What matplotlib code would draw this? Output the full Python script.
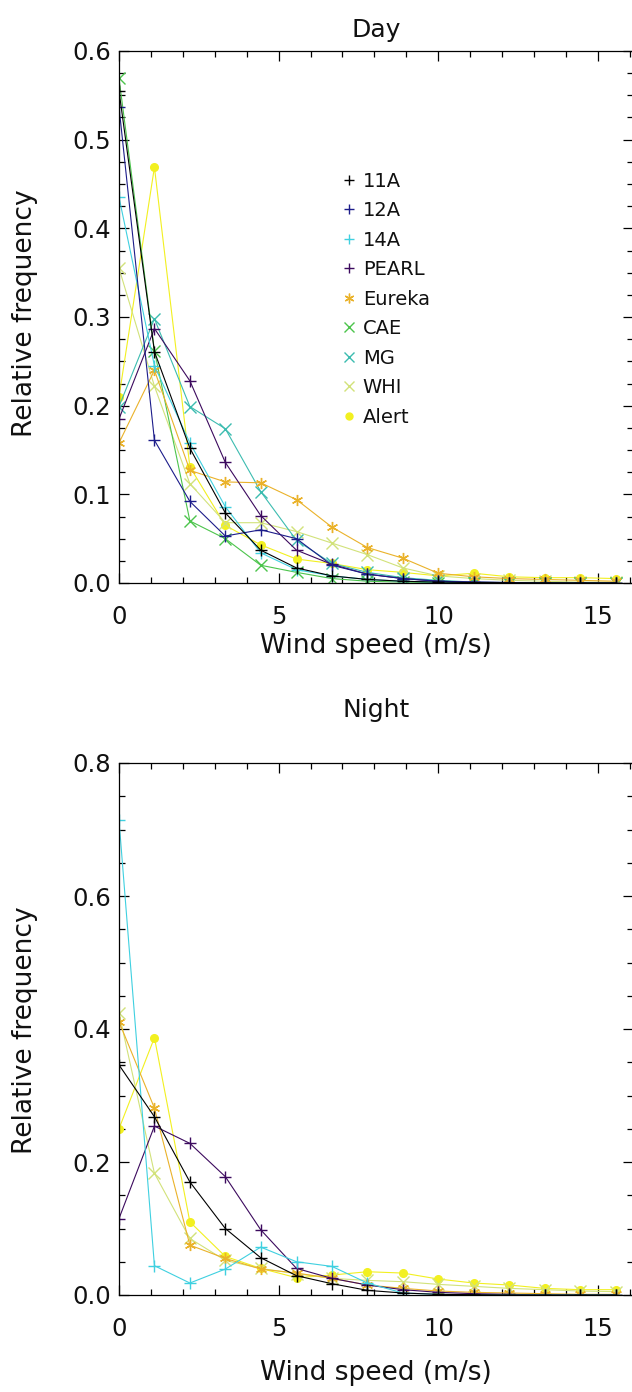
import matplotlib
matplotlib.use('Agg')
import matplotlib.pyplot as plt
from matplotlib.lines import Line2D
from matplotlib.ticker import MultipleLocator, FormatStrFormatter

plt.rcParams['font.family'] = ['DejaVu Sans']

# wind speed bins (4 km/h steps, in m/s)
speed = [0.0, 1.11, 2.22, 3.33, 4.44, 5.56, 6.67, 7.78, 8.89, 10.0,
         11.11, 12.22, 13.33, 14.44, 15.56]

# Day
day_11A = [0.555, 0.261, 0.152, 0.079, 0.037, 0.017, 0.008, 0.004, 0.002, 0.001, 0.0005, 0.0003, 0.0002, 0.0001, 0.0001]
day_12A = [0.537, 0.161, 0.092, 0.053, 0.060, 0.050, 0.020, 0.010, 0.005, 0.002, 0.001, 0.0005, 0.0, 0.0, 0.0]
day_14A = [0.435, 0.245, 0.158, 0.086, 0.034, 0.015, 0.008, 0.004, 0.002, 0.001, 0.0005, 0.0, 0.0, 0.0, 0.0]
day_PEARL = [0.185, 0.287, 0.228, 0.136, 0.076, 0.037, 0.021, 0.010, 0.005, 0.002, 0.001, 0.0005, 0.0, 0.0, 0.0]
day_Eureka = [0.158, 0.240, 0.127, 0.114, 0.113, 0.094, 0.063, 0.040, 0.028, 0.011, 0.007, 0.005, 0.004, 0.003, 0.002]
day_CAE = [0.569, 0.262, 0.070, 0.050, 0.020, 0.012, 0.005, 0.002, 0.001, 0.0005, 0.0, 0.0, 0.0, 0.0, 0.0]
day_MG = [0.199, 0.298, 0.199, 0.174, 0.103, 0.048, 0.022, 0.012, 0.006, 0.003, 0.001, 0.0005, 0.0, 0.0, 0.0]
day_WHI = [0.355, 0.222, 0.112, 0.068, 0.068, 0.058, 0.045, 0.032, 0.017, 0.008, 0.005, 0.003, 0.002, 0.001, 0.001]
day_Alert = [0.210, 0.469, 0.131, 0.065, 0.043, 0.027, 0.022, 0.015, 0.012, 0.008, 0.011, 0.007, 0.006, 0.006, 0.005]

# Night
night_11A = [0.346, 0.268, 0.170, 0.100, 0.056, 0.029, 0.017, 0.007, 0.003, 0.001, 0.0005, 0.0, 0.0, 0.0, 0.0]
night_14A = [0.714, 0.044, 0.018, 0.039, 0.072, 0.050, 0.043, 0.018, 0.003, 0.001, 0.0, 0.0, 0.0, 0.0, 0.0]
night_PEARL = [0.115, 0.254, 0.228, 0.178, 0.098, 0.040, 0.025, 0.015, 0.008, 0.004, 0.002, 0.001, 0.0, 0.0, 0.0]
night_Eureka = [0.411, 0.281, 0.075, 0.055, 0.039, 0.033, 0.025, 0.015, 0.010, 0.006, 0.004, 0.003, 0.002, 0.001, 0.001]
night_WHI = [0.424, 0.183, 0.085, 0.052, 0.040, 0.032, 0.025, 0.022, 0.020, 0.016, 0.013, 0.010, 0.008, 0.006, 0.005]
night_Alert = [0.250, 0.387, 0.110, 0.058, 0.040, 0.026, 0.030, 0.035, 0.033, 0.024, 0.018, 0.015, 0.010, 0.008, 0.008]

names = ['11A', '12A', '14A', 'PEARL', 'Eureka', 'CAE', 'MG', 'WHI', 'Alert']
colors = {'11A': '#000000', '12A': '#1c1c8a', '14A': '#3fd0e0', 'PEARL': '#3c0a5e',
          'Eureka': '#eab22a', 'CAE': '#4cc44c', 'MG': '#3cbcb0', 'WHI': '#d2e27a',
          'Alert': '#f2f020'}
asterisk = (6, 2, 0)
markers = {'11A': '+', '12A': '+', '14A': '+', 'PEARL': '+', 'Eureka': asterisk,
           'CAE': 'x', 'MG': 'x', 'WHI': 'x', 'Alert': 'o'}

day = {'11A': day_11A, '12A': day_12A, '14A': day_14A, 'PEARL': day_PEARL,
       'Eureka': day_Eureka, 'CAE': day_CAE, 'MG': day_MG, 'WHI': day_WHI,
       'Alert': day_Alert}
night = {'11A': night_11A, '14A': night_14A, 'PEARL': night_PEARL,
         'Eureka': night_Eureka, 'WHI': night_WHI, 'Alert': night_Alert}

W, H = 632, 1392
fig = plt.figure(figsize=(W / 100, H / 100), dpi=100)
ax1 = fig.add_axes([119 / W, 1 - 583 / H, 514 / W, 532 / H])
ax2 = fig.add_axes([119 / W, 1 - 1295 / H, 514 / W, 532 / H])


def msize(nm):
    return 5.5 if markers[nm] == 'o' else 8


def draw(ax, data, ymax, ymaj, ymin):
    # plot in reverse so the first stations lie on top
    for nm in reversed(names):
        if nm not in data:
            continue
        ax.plot(speed, data[nm], color=colors[nm], marker=markers[nm],
                markersize=msize(nm), linewidth=0.8, markeredgewidth=1.0)
    ax.set_xlim(0, 16.1)
    ax.set_ylim(0, ymax)
    ax.xaxis.set_major_locator(MultipleLocator(5))
    ax.xaxis.set_minor_locator(MultipleLocator(1))
    ax.yaxis.set_major_locator(MultipleLocator(ymaj))
    ax.yaxis.set_minor_locator(MultipleLocator(ymin))
    ax.yaxis.set_major_formatter(FormatStrFormatter('%.1f'))
    ax.tick_params(which='both', direction='in', top=True, right=True,
                   labelsize=17.5, width=0.9, labelcolor='#111111')
    ax.tick_params(which='major', length=7.5)
    ax.tick_params(which='minor', length=4.3)
    ax.tick_params(axis='x', which='major', pad=16)
    ax.tick_params(axis='y', which='major', pad=6)
    for s in ax.spines.values():
        s.set_linewidth(0.9)


draw(ax1, day, 0.6, 0.1, 0.025)
draw(ax2, night, 0.8, 0.2, 0.05)

# titles and axis labels at their places in the figure
txt = dict(ha='center', va='center', color='#111111')
fig.text(376 / W, 1 - 30 / H, 'Day', fontsize=18, **txt)
fig.text(376 / W, 1 - 710 / H, 'Night', fontsize=18, **txt)
fig.text(376 / W, 1 - 646 / H, 'Wind speed (m/s)', fontsize=19, **txt)
fig.text(376 / W, 1 - 1373 / H, 'Wind speed (m/s)', fontsize=19, **txt)
fig.text(25 / W, 1 - 313 / H, 'Relative frequency', fontsize=19, rotation=90, **txt)
fig.text(25 / W, 1 - 1030 / H, 'Relative frequency', fontsize=19, rotation=90, **txt)

handles = [Line2D([], [], color=colors[nm], marker=markers[nm], linestyle='none',
                  markersize=5 if markers[nm] == 'o' else 7) for nm in names]
leg = ax1.legend(handles, names, loc='upper left', bbox_to_anchor=(0.432, 0.773),
                 frameon=False, fontsize=14, handlelength=0.8, handletextpad=0.32,
                 labelspacing=0.54, borderaxespad=0, borderpad=0)
for t in leg.get_texts():
    t.set_color('#111111')

fig.savefig('out.png', dpi=100)
